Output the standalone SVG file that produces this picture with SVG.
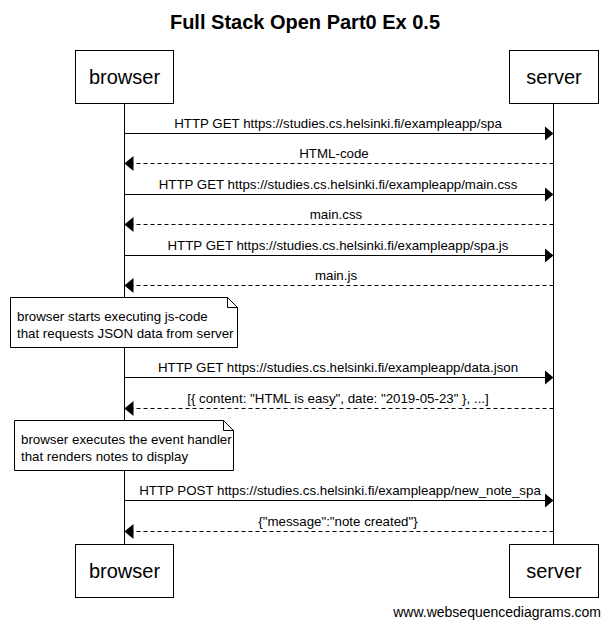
<svg xmlns="http://www.w3.org/2000/svg" width="610" height="627" viewBox="0 0 610 627">
<style>
text{font-family:"Liberation Sans",Arial,sans-serif;fill:#000}
.title{font-size:20px;font-weight:bold;text-anchor:middle}
.actor rect{fill:#fff;stroke:#000;stroke-width:1}
.actor text{font-size:20px;text-anchor:middle}
.life{stroke:#000;stroke-width:1}
.msg{stroke:#000;stroke-width:1;fill:none}
.ret{stroke-dasharray:4,3}
.lbl{font-size:13.3px;text-anchor:middle}
.note path{fill:#fff;stroke:#000;stroke-width:1}
.note text{font-size:13.3px}
.foot{font-size:14px;text-anchor:end}
</style>
<defs>
<marker id="ah" viewBox="0 0 9 15" refX="9" refY="7.5" markerWidth="9" markerHeight="15" markerUnits="userSpaceOnUse" orient="auto">
<path d="M0,0 L9,7.5 L0,15 Z" fill="#000"/>
</marker>
</defs>
<rect width="610" height="627" fill="#fff"/>
<text class="title" x="305" y="29">Full Stack Open Part0 Ex 0.5</text>
<g id="lifelines">
<line class="life" x1="124.5" y1="104" x2="124.5" y2="544"/>
<line class="life" x1="553.5" y1="104" x2="553.5" y2="544"/>
</g>
<g id="browser" class="actor">
<rect x="75.5" y="50.5" width="98" height="53"/>
<text x="124.5" y="84">browser</text>
</g>
<g id="server" class="actor">
<rect x="509.5" y="50.5" width="89" height="53"/>
<text x="554" y="84">server</text>
</g>
<g id="browser-bottom" class="actor">
<rect x="75.5" y="544.5" width="98" height="53"/>
<text x="124.5" y="578">browser</text>
</g>
<g id="server-bottom" class="actor">
<rect x="509.5" y="544.5" width="89" height="53"/>
<text x="554" y="578">server</text>
</g>
<g id="connectors">
<line class="msg" x1="124.5" y1="133.5" x2="553.5" y2="133.5" marker-end="url(#ah)"/>
<text class="lbl" x="338" y="128">HTTP GET https://studies.cs.helsinki.fi/exampleapp/spa</text>
<line class="msg ret" x1="553.5" y1="163.5" x2="124.5" y2="163.5" marker-end="url(#ah)"/>
<text class="lbl" x="334" y="158">HTML-code</text>
<line class="msg" x1="124.5" y1="194.5" x2="553.5" y2="194.5" marker-end="url(#ah)"/>
<text class="lbl" x="338" y="189">HTTP GET https://studies.cs.helsinki.fi/exampleapp/main.css</text>
<line class="msg ret" x1="553.5" y1="224.5" x2="124.5" y2="224.5" marker-end="url(#ah)"/>
<text class="lbl" x="336" y="219">main.css</text>
<line class="msg" x1="124.5" y1="255.5" x2="553.5" y2="255.5" marker-end="url(#ah)"/>
<text class="lbl" x="338" y="250">HTTP GET https://studies.cs.helsinki.fi/exampleapp/spa.js</text>
<line class="msg ret" x1="553.5" y1="285.5" x2="124.5" y2="285.5" marker-end="url(#ah)"/>
<text class="lbl" x="336" y="280">main.js</text>
<line class="msg" x1="124.5" y1="377.5" x2="553.5" y2="377.5" marker-end="url(#ah)"/>
<text class="lbl" x="338" y="372">HTTP GET https://studies.cs.helsinki.fi/exampleapp/data.json</text>
<line class="msg ret" x1="553.5" y1="408.5" x2="124.5" y2="408.5" marker-end="url(#ah)"/>
<text class="lbl" x="338" y="403">[{ content: "HTML is easy", date: "2019-05-23" }, ...]</text>
<line class="msg" x1="124.5" y1="500.5" x2="553.5" y2="500.5" marker-end="url(#ah)"/>
<text class="lbl" x="340" y="495">HTTP POST https://studies.cs.helsinki.fi/exampleapp/new_note_spa</text>
<line class="msg ret" x1="553.5" y1="531.5" x2="124.5" y2="531.5" marker-end="url(#ah)"/>
<text class="lbl" x="338" y="526">{"message":"note created"}</text>
</g>
<g id="note1" class="note">
<path d="M10.5,297.5 H227.5 L237.5,307.5 V347.5 H10.5 Z M227.5,297.5 V307.5 H237.5"/>
<text x="17" y="321">browser starts executing js-code</text>
<text x="17" y="338">that requests JSON data from server</text>
</g>
<g id="note2" class="note">
<path d="M14.5,420.5 H223.5 L233.5,430.5 V470.5 H14.5 Z M223.5,420.5 V430.5 H233.5"/>
<text x="21" y="444">browser executes the event handler</text>
<text x="21" y="461">that renders notes to display</text>
</g>
<text class="foot" x="601" y="617">www.websequencediagrams.com</text>
</svg>
